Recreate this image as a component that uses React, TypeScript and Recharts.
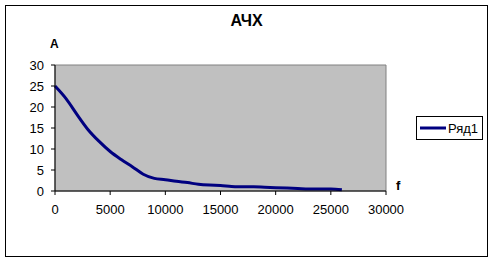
import { LineChart, Line, XAxis, YAxis, ReferenceArea } from 'recharts';

const freq = [0, 1000, 2000, 3000, 4000, 5000, 6000, 7000, 8000, 9000, 10000, 11000, 12000, 13000, 14000, 15000, 16000, 17000, 18000, 19000, 20000, 21000, 22000, 23000, 24000, 25000, 26000];
const amp = [25, 22, 18.2, 14.6, 11.8, 9.4, 7.5, 5.8, 4, 3, 2.7, 2.3, 2, 1.6, 1.4, 1.3, 1.1, 1, 1, 0.9, 0.8, 0.7, 0.6, 0.5, 0.5, 0.5, 0.3];
const xTicks = [0, 5000, 10000, 15000, 20000, 25000, 30000];
const yTicks = [0, 5, 10, 15, 20, 25, 30];
const seriesName = 'Ряд1';

const data = freq.map((f, i) => ({ f, a: amp[i] }));

const font = '"Liberation Sans", Arial, sans-serif';

export default function App() {
  return (
    <div style={{ position: 'absolute', left: 0, top: 0, width: 493, height: 262, background: '#fff' }}>
      <div style={{ position: 'absolute', left: 5, top: 5, width: 483, height: 252, border: '1px solid #000', boxSizing: 'border-box' }} />
      <div style={{ position: 'absolute', left: 0, width: 493, top: 12, textAlign: 'center', fontFamily: font, fontWeight: 'bold', fontSize: 16 }}>АЧХ</div>
      <div style={{ position: 'absolute', left: 50, top: 37, fontFamily: font, fontWeight: 'bold', fontSize: 12 }}>А</div>
      <div style={{ position: 'absolute', left: 396, top: 178, fontFamily: font, fontWeight: 'bold', fontSize: 13 }}>f</div>
      <div style={{ position: 'absolute', left: 416, top: 116, width: 67, height: 24, border: '1px solid #000', boxSizing: 'border-box', display: 'flex', alignItems: 'center', fontFamily: font, fontSize: 13 }}>
        <svg width={28} height={10} style={{ marginLeft: 3 }}>
          <line x1={0} y1={5} x2={26} y2={5} stroke="#000080" strokeWidth={3} />
        </svg>
        <span>{seriesName}</span>
      </div>
      <LineChart width={493} height={262} data={data} margin={{ top: 65, right: 107, left: 0, bottom: 0 }} style={{ position: 'absolute', left: 0, top: 0 }}>
        <ReferenceArea x1={0} x2={30000} y1={0} y2={30} fill="#c0c0c0" fillOpacity={1} stroke="#808080" strokeWidth={1} ifOverflow="visible" />
        <XAxis dataKey="f" type="number" domain={[0, 30000]} ticks={xTicks} height={71} stroke="#000" tickSize={4} tickMargin={10} tick={{ fill: '#000', fontSize: 13, fontFamily: font }} interval={0} />
        <YAxis type="number" domain={[0, 30]} ticks={yTicks} width={55} stroke="#000" tickSize={4} tickMargin={7} tick={{ fill: '#000', fontSize: 13, fontFamily: font }} interval={0} />
        <Line type="monotone" dataKey="a" name={seriesName} stroke="#000080" strokeWidth={3} dot={false} isAnimationActive={false} />
      </LineChart>
    </div>
  );
}
